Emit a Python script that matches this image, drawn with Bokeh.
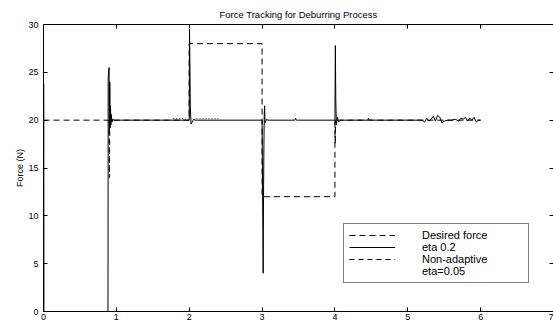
from bokeh.plotting import figure
from bokeh.models import Range1d, FixedTicker, LinearAxis, Legend, LegendItem
from bokeh.embed import file_html
from bokeh.resources import INLINE

nan = float("nan")

# ---- data ----
x_ticks = [0, 1, 2, 3, 4, 5, 6, 7]
y_ticks = [0, 5, 10, 15, 20, 25, 30]

desired_t = [0, 2, 2, 3, 3, 4, 4, 6]
desired_f = [20, 20, 28, 28, 12, 12, 20, 20]

eta02_t = [0, 0.002, 0.004, 0.006, 0.885, 0.888, 0.9, 0.905, 0.91, 0.915, 0.92, 0.925,
           0.93, 0.94, 0.95, 0.97,
           2.0, 2.004, 2.008, 2.015, 2.025, 2.04, 2.06, 2.08,
           3.0, 3.015, 3.02, 3.025, 3.03, 3.035, 3.04, 3.06, 3.08,
           3.45, 3.46, 3.47,
           4.0, 4.006, 4.012, 4.02, 4.035, 4.05, 4.07,
           4.45, 4.46, 4.47, 5.17,
           5.20, 5.23, 5.26, 5.29, 5.32, 5.35, 5.38, 5.41, 5.44, 5.47, 5.50, 5.55,
           5.60, 5.65, 5.70, 5.73, 5.76, 5.79, 5.82, 5.85, 5.88, 5.91, 5.94, 5.97, 6.0]
eta02_f = [16, 23.8, 20, 0, 0, 24.5, 25.5, 18.5, 24, 19.2, 21.5, 19.5,
           20.6, 19.8, 20.1, 20,
           20, 29.5, 27, 21.5, 19.6, 19.8, 20.1, 20,
           20, 4, 12, 17, 20.6, 21.5, 19.7, 20.1, 20,
           20, 20.2, 20,
           20, 27.8, 22, 19.5, 20.3, 19.8, 20,
           20, 20.2, 20, 20,
           20.0, 19.8, 20.2, 19.9, 20.1, 20.4, 19.9, 20.5, 20.3, 19.7, 19.9, 20.0, 20.0,
           20.1, 19.9, 20.2, 20.1, 20.3, 19.9, 20.2, 20.0, 20.3, 19.8, 20.0, 20.0]

nonadaptive_t = [0.9, 0.905, 0.91, nan, 4.0, 4.005, 4.01]
nonadaptive_f = [20, 14, 20, nan, 20, 17.5, 20]

eta005_t = [0.58, 0.98, nan, 1.78, 1.95, nan, 2.08, 2.73, nan, 2.1, 2.4]
eta005_f = [30, 30, nan, 20.15, 20.15, nan, 0, 0, nan, 20.15, 20.15]

FONT = "Liberation Sans"

p = figure(width=553, height=325, x_range=Range1d(0, 7), y_range=Range1d(0, 30),
           output_backend="svg", toolbar_location=None,
           min_border_left=43, min_border_right=0, min_border_top=24, min_border_bottom=14,
           title="Force Tracking for Deburring Process")
p.outline_line_color = None
p.background_fill_color = "white"
p.border_fill_color = "white"
p.grid.visible = False

p.title.align = "center"
p.title.text_font = FONT
p.title.text_font_size = "9.5px"
p.title.text_font_style = "normal"
p.title.text_color = "black"

def style_axis(ax, ticks):
    ax.ticker = FixedTicker(ticks=ticks)
    ax.major_tick_in = 4
    ax.major_tick_out = 0
    ax.minor_tick_in = 0
    ax.minor_tick_out = 0
    ax.axis_line_color = "black"
    ax.major_tick_line_color = "black"
    ax.major_label_text_font = FONT
    ax.major_label_text_color = "black"
    ax.major_label_text_font_size = "9px"

style_axis(p.xaxis[0], x_ticks)
p.xaxis[0].major_label_standoff = 2
style_axis(p.yaxis[0], y_ticks)
p.yaxis[0].major_label_standoff = 5
p.yaxis[0].axis_label = "Force (N)"
p.yaxis[0].axis_label_text_font = FONT
p.yaxis[0].axis_label_text_font_size = "9px"
p.yaxis[0].axis_label_text_font_style = "normal"
p.yaxis[0].axis_label_text_color = "black"
p.yaxis[0].axis_label_standoff = 0

# box ticks on top and right, without labels
top = LinearAxis(ticker=FixedTicker(ticks=x_ticks), major_tick_in=4, major_tick_out=0,
                 minor_tick_in=0, minor_tick_out=0, major_label_standoff=0,
                 major_label_overrides={t: "" for t in x_ticks},
                 axis_line_color="black")
p.add_layout(top, "above")
right = LinearAxis(ticker=FixedTicker(ticks=y_ticks), major_tick_in=4, major_tick_out=0,
                   minor_tick_in=0, minor_tick_out=0, major_label_standoff=0,
                   major_label_overrides={t: "" for t in y_ticks},
                   axis_line_color=None)
p.add_layout(right, "right")

r_des = p.line(desired_t, desired_f, line_color="black", line_width=1, line_dash="6 4")
r_eta02 = p.line(eta02_t, eta02_f, line_color="black", line_width=1)
r_non = p.line(nonadaptive_t, nonadaptive_f, line_color="black", line_width=1, line_dash="5 4")
r_eta005 = p.line(eta005_t, eta005_f, line_color="black", line_width=1, line_dash="1 2")
r_eta005_key = p.line(eta005_t, eta005_f, line_alpha=0)

legend = Legend(items=[
    LegendItem(label="Desired force", renderers=[r_des]),
    LegendItem(label="eta 0.2", renderers=[r_eta02]),
    LegendItem(label="Non-adaptive", renderers=[r_non]),
    LegendItem(label="eta=0.05", renderers=[r_eta005_key]),
], location=(300, 28))
legend.border_line_color = "black"
legend.border_line_width = 1
legend.background_fill_alpha = 1
legend.margin = 0
legend.padding = 5
legend.spacing = 0
legend.label_height = 12
legend.glyph_height = 12
legend.glyph_width = 46
legend.label_standoff = 27
legend.label_width = 101
legend.label_text_font = FONT
legend.label_text_font_size = "11px"
legend.label_text_color = "black"
p.add_layout(legend)

open("out.html", "w").write(file_html(p, INLINE))
